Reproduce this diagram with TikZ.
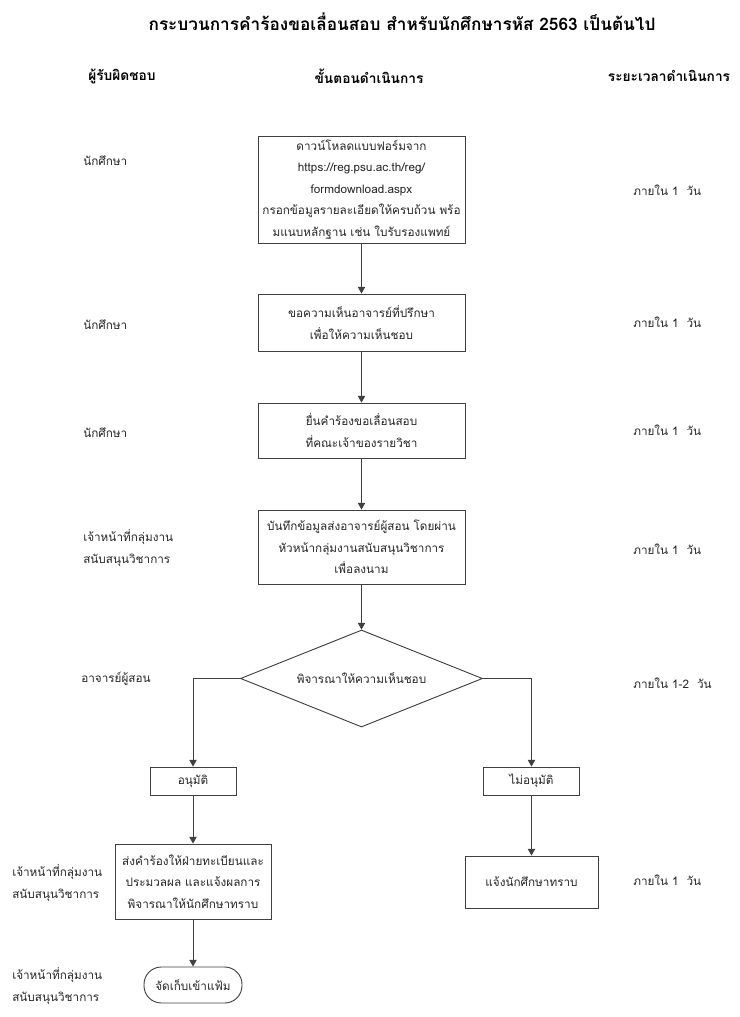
\documentclass[tikz,border=0pt]{standalone}
\usepackage{fontspec}
\setmainfont[Script=Thai]{Loma}
\usetikzlibrary{shapes.geometric,arrows.meta}
\definecolor{ln}{HTML}{404040}
\definecolor{tx}{HTML}{262626}
\begin{document}
\begin{tikzpicture}[x=0.75pt,y=-0.75pt,
  every node/.style={text=tx,font=\fontsize{8.8}{16.2}\selectfont},
  box/.style={draw=ln,line width=0.7pt,align=center,inner sep=0pt},
  dec/.style={draw=ln,line width=0.7pt,diamond,aspect=2.5,inner sep=0pt,minimum width=181.5pt,minimum height=72.75pt},
  term/.style={draw=ln,line width=0.7pt,rounded corners=13pt,inner sep=0pt,align=center},
  arr/.style={draw=ln,line width=0.7pt,-{Triangle[length=5pt,width=5.5pt]}},
  lbl/.style={anchor=west,align=left,inner sep=0pt},
  hdr/.style={font=\bfseries\fontsize{10.3}{12}\selectfont,text=black},
]
\useasboundingbox (0,0) rectangle (739,1017);
\node[font=\bfseries\fontsize{12.9}{14}\selectfont,text=black] (title) at (402,22) {กระบวนการคำร้องขอเลื่อนสอบ สำหรับนักศึกษารหัส 2563 เป็นต้นไป};
\node[hdr] (h1) at (122,76) {ผู้รับผิดชอบ};
\node[hdr] (h2) at (369,76) {ขั้นตอนดำเนินการ};
\node[hdr] (h3) at (669,76) {ระยะเวลาดำเนินการ};

\node[box,minimum width=155.25pt,minimum height=80.25pt] (b1) at (361.5,189.5) {ดาวน์โหลดแบบฟอร์มจาก\\https://reg.psu.ac.th/reg/\\formdownload.aspx\\กรอกข้อมูลรายละเอียดให้ครบถ้วน พร้อ\\มแนบหลักฐาน เช่น ใบรับรองแพทย์};
\node[box,minimum width=155.25pt,minimum height=42.75pt] (b2) at (361.5,322.5) {ขอความเห็นอาจารย์ที่ปรึกษา\\เพื่อให้ความเห็นชอบ};
\node[box,minimum width=155.25pt,minimum height=41.25pt] (b3) at (361.5,430.5) {ยื่นคำร้องขอเลื่อนสอบ\\ที่คณะเจ้าของรายวิชา};
\node[box,minimum width=155.25pt,minimum height=55.5pt] (b4) at (361.5,547) {บันทึกข้อมูลส่งอาจารย์ผู้สอน โดยผ่าน\\หัวหน้ากลุ่มงานสนับสนุนวิชาการ\\เพื่อลงนาม};
\node[dec] (d) at (361.5,678.5) {พิจารณาให้ความเห็นชอบ};
\node[box,minimum width=64.5pt,minimum height=21pt] (ap) at (193,781) {อนุมัติ};
\node[box,minimum width=72pt,minimum height=21pt] (rj) at (531.5,781) {ไม่อนุมัติ};
\node[box,minimum width=117pt,minimum height=56.25pt] (sd) at (193,881.5) {ส่งคำร้องให้ฝ่ายทะเบียนและ\\ประมวลผล และแจ้งผลการ\\พิจารณาให้นักศึกษาทราบ};
\node[box,minimum width=99.75pt,minimum height=39pt] (nt) at (531.5,882) {แจ้งนักศึกษาทราบ};
\node[term,minimum width=73.5pt,minimum height=27pt] (tm) at (193,985) {จัดเก็บเข้าแฟ้ม};

\draw[arr] (b1) -- (b2);
\draw[arr] (b2) -- (b3);
\draw[arr] (b3) -- (b4);
\draw[arr] (b4) -- (d);
\draw[arr] (d.west) -| (ap.north);
\draw[arr] (d.east) -| (rj.north);
\draw[arr] (ap) -- (sd);
\draw[arr] (sd) -- (tm);
\draw[arr] (rj) -- (nt);

\node[lbl] (l1) at (83,161) {นักศึกษา};
\node[lbl] (l2) at (83,325) {นักศึกษา};
\node[lbl] (l3) at (83,433) {นักศึกษา};
\node[lbl] (l4) at (83,548) {เจ้าหน้าที่กลุ่มงาน\\สนับสนุนวิชาการ};
\node[lbl] (l5) at (81,679) {อาจารย์ผู้สอน};
\node[lbl] (l6) at (12,883) {เจ้าหน้าที่กลุ่มงาน\\สนับสนุนวิชาการ};
\node[lbl] (l7) at (12,986) {เจ้าหน้าที่กลุ่มงาน\\สนับสนุนวิชาการ};

\node[lbl] (r1) at (633,190) {ภายใน 1~~วัน};
\node[lbl] (r2) at (633,322) {ภายใน 1~~วัน};
\node[lbl] (r3) at (633,430) {ภายใน 1~~วัน};
\node[lbl] (r4) at (633,549) {ภายใน 1~~วัน};
\node[lbl] (r5) at (633,683) {ภายใน 1-2~~วัน};
\node[lbl] (r6) at (633,880) {ภายใน 1~~วัน};
\end{tikzpicture}
\end{document}
